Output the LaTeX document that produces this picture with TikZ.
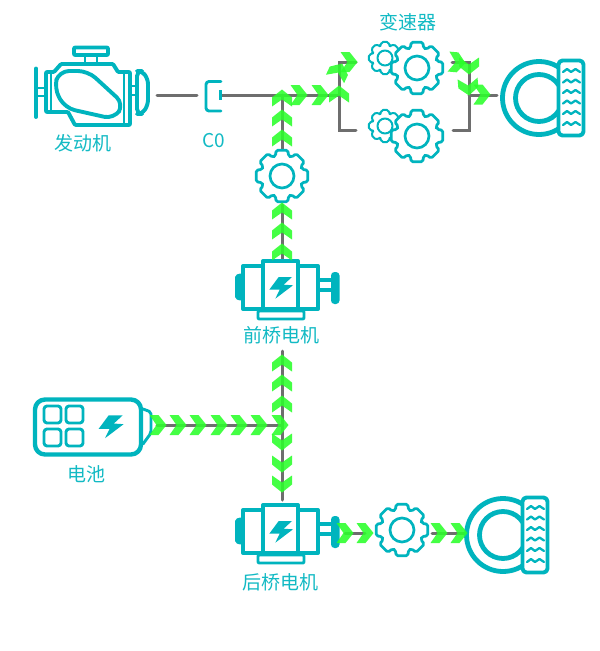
\documentclass[tikz,border=0pt]{standalone}
\usepackage{fontspec}
\setmainfont{Noto Sans CJK SC}
\definecolor{teal1}{HTML}{00B4BE}
\definecolor{tealtxt}{HTML}{12BAC4}
\definecolor{grayline}{HTML}{6E6E6E}
\definecolor{chevgreen}{HTML}{2BFF2B}
\tikzset{
  wire/.style={draw=grayline,line width=3pt,line cap=round,line join=miter},
  icon/.style={draw=teal1,line width=3.9pt,line join=round,line cap=round},
  thinicon/.style={draw=teal1,line width=2.9pt,line join=round,line cap=round},
  solid icon/.style={fill=teal1,draw=none},
  chevron/.style={fill=chevgreen,fill opacity=0.88,draw=none},
  label/.style={text=tealtxt,font=\fontsize{19}{20}\selectfont,inner sep=0pt,anchor=center},
}
\newcommand\chev[3]{\fill[chevron,shift={(#1,#2)},rotate=#3] (-16.5,-10) -- (-7.5,-10) -- (0.5,0) -- (-7.5,10) -- (-16.5,10) -- (-9.5,0) -- cycle;}
\newcommand\cog[6]{%
  \begin{scope}[shift={(#2,#3)}]
  \coordinate (#1) at (0,0);
  \draw[thinicon,line width=#6,fill=white,rounded corners=1.8pt]
    ({-18}:{#4*0.79}) \foreach \a in {0,45,...,315}{
      -- ({\a-18}:{#4*0.79}) -- ({\a-13}:#4) -- ({\a+13}:#4) -- ({\a+18}:{#4*0.79})
    } -- cycle;
  \draw[thinicon,line width=#6] (0,0) circle (#5);
  \end{scope}}
\newcommand\boltshape[3]{\fill[solid icon,shift={(#1,#2)},scale=#3]
  (-2.3,-11) -- (11,-11) -- (2.7,-3.3) -- (12,-2.7) -- (-5.7,10.7) -- (-1.3,1.7) -- (-11.7,1.7) -- cycle;}
\newcommand\motor[3]{%
  \begin{scope}[shift={(#2,#3)}]
  \coordinate (#1) at (0,0);
  \fill[solid icon,rounded corners=2pt] (-39,-15) -- (-46,-13) -- (-46,11) -- (-39,13) -- cycle;
  \draw[icon,fill=white] (-38,-22) rectangle (37,21);
  \draw[icon,fill=white] (-18,-27) rectangle (17,21);
  \draw[icon] (37,-8) -- (50,-8) (37,2) -- (50,2);
  \fill[solid icon,rounded corners=3.5pt] (50,-16) rectangle (58.5,16);
  \draw[thinicon,rounded corners=1pt] (-23,23) rectangle (23,31);
  \boltshape{0}{0}{1}
  \end{scope}}
\newcommand\tyre[3]{%
  \begin{scope}[shift={(#2,#3)}]
  \coordinate (#1) at (0,0);
  \draw[icon,line width=4.8pt] (0,0) circle (36.5);
  \draw[icon,line width=4.8pt] (0,0) circle (23.5);
  \draw[icon,fill=white,rounded corners=4pt] (19.5,-37.5) rectangle (44.5,37.5);
  \foreach \w in {-26,-15.5,-5,5.5,16,27}{
    \draw[thinicon,line width=2.3pt] (24,\w) -- (28,{\w-3}) -- (32,\w) -- (36.5,{\w-3}) -- (41,\w);
  }
  \end{scope}}
\begin{document}
\begin{tikzpicture}[x=1pt,y=-1pt]
\useasboundingbox (0,0) rectangle (600,651);
\fill[white] (0,0) rectangle (600,651);
% junction coordinates
\coordinate (engout) at (157,95);
\coordinate (engin) at (197,95);
\coordinate (clin) at (221,95);
\coordinate (j1) at (282,95);
\coordinate (gl) at (339,95);
\coordinate (gltop) at (339,62);
\coordinate (glbot) at (339,130);
\coordinate (gltopend) at (356,62);
\coordinate (glbotend) at (356,130);
\coordinate (grtop) at (469,62);
\coordinate (grbot) at (469,130);
\coordinate (grtopend) at (452,62);
\coordinate (grbotend) at (453,130);
\coordinate (gr) at (469,95);
\coordinate (grout) at (497,95);
\coordinate (g1s) at (282,150);
\coordinate (g1n) at (282,205);
\coordinate (fmn) at (282,262);
\coordinate (busn) at (282,351);
\coordinate (buss) at (282,500);
\coordinate (busj) at (282,425);
\coordinate (bate) at (157,425);
\coordinate (rm1) at (345,533);
\coordinate (rm2) at (365,533);
\coordinate (rm3) at (432,533);
\coordinate (rm4) at (465,533);
% connectors
\draw[wire] (engout) -- (engin);
\draw[wire] (clin) -- (gl);
\draw[wire] (j1) -- (g1s);
\draw[wire] (g1n) -- (fmn);
\draw[wire] (gltopend) -- (gltop) -- (glbot) -- (glbotend);
\draw[wire] (grtopend) -- (grtop) -- (grbot) -- (grbotend);
\draw[wire] (gr) -- (grout);
\draw[wire] (busn) -- (buss);
\draw[wire] (bate) -- (busj);
\draw[wire] (rm1) -- (rm2);
\draw[wire] (rm3) -- (rm4);
% engine
\draw[icon,rounded corners=1pt] (74,47.5) rectangle (108,55);
\draw[thinicon] (85,56) -- (85,64) (97,56) -- (97,64);
\draw[icon,rounded corners=1pt] (46,72) -- (54,72) -- (61,64) -- (113,64) -- (118,72) -- (130,72) -- (130,125) -- (75,125) -- (68,112) -- (46,112) -- cycle;
\draw[thinicon] (51,73) -- (51,111) (124,74) -- (124,124);
\draw[icon] (36,68.5) -- (36,117);
\draw[thinicon] (37,88) -- (45,88) (37,96) -- (45,96);
\draw[thinicon] (130,86) -- (137,86) (130,95) -- (137,95);
\draw[icon,rounded corners=5pt] (137,71) -- (142,71) -- (148,79) -- (148,105) -- (142,114) -- (137,114) -- cycle;
\draw[icon,rounded corners=10pt] (59,71) -- (88,71) -- (124,104) -- (114,119) -- (65,108) -- (54,88) -- cycle;
% clutch
\draw[thinicon,rounded corners=3pt] (221,81.5) -- (206,81.5) -- (206,111) -- (221,111);
\draw[thinicon,line cap=butt] (220.5,90) -- (220.5,100);
% gears
\cog{gsmall1}{385}{58}{16.5}{7.5}{2pt}
\cog{gbig1}{417}{68}{26.5}{12}{2.7pt}
\cog{gsmall2}{385}{126}{16.5}{7.5}{2pt}
\cog{gbig2}{417}{136}{26.5}{12}{2.7pt}
\cog{gfront}{282}{176}{26.5}{12}{2.7pt}
\cog{grear}{402}{530}{26.5}{12}{2.7pt}
% motors
\motor{mfront}{281}{288}
\motor{mrear}{281}{532}
% tyres
\tyre{tfront}{539}{98}
\tyre{trear}{503}{535}
% battery
\draw[icon,line width=4.4pt,rounded corners=10pt] (35,399.5) rectangle (141,454.5);
\draw[thinicon,rounded corners=2pt] (143,409) -- (151,412) -- (151,433) -- (143,444);
\foreach \cx/\cy/\n in {44/406/a,66/406/b,44/429/c,66/429/d}{
  \draw[thinicon,line width=2.9pt,rounded corners=3pt] (\cx,\cy) rectangle ({\cx+17},{\cy+17});
}
\boltshape{111}{427}{1.05}
% labels
\node[label] (lbengine) at (83,143) {发动机};
\node[label] (lbclutch) at (214,141) {C0};
\node[label] (lbgear) at (408,22) {变速器};
\node[label] (lbfront) at (281,335) {前桥电机};
\node[label] (lbbatt) at (86,474) {电池};
\node[label] (lbrear) at (280,582) {后桥电机};
% chevrons
\foreach \x in {166,186,206,227,247,267,288}{\chev{\x}{425}{0}}
\foreach \y in {355,375,396}{\chev{282}{\y}{90}}
\foreach \y in {450,472,492}{\chev{282}{\y}{-90}}
\foreach \y in {203,223,244}{\chev{282}{\y}{90}}
\foreach \y in {90,110,130}{\chev{282}{\y}{90}}
\foreach \x in {307,328}{\chev{\x}{95}{0}}
\chev{339}{86}{90}
\chev{342}{64}{65}
\chev{357}{62}{0}
\chev{465}{63}{-5}
\chev{469}{74}{-90}
\chev{469}{95}{-85}
\chev{490}{94.5}{0}
\foreach \x in {353,373,447,467}{\chev{\x}{533}{0}}
\end{tikzpicture}
\end{document}
